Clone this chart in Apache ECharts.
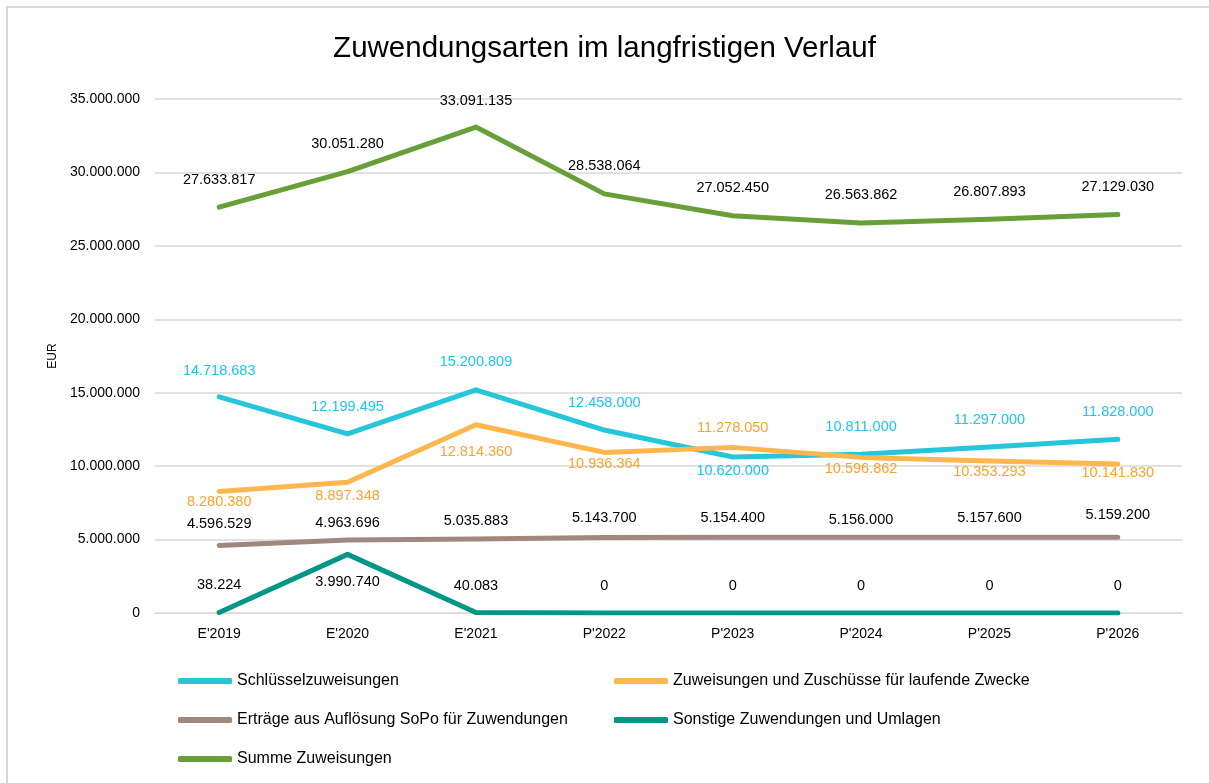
<!DOCTYPE html>
<html>
<head>
<meta charset="utf-8">
<script src="https://cdn.jsdelivr.net/npm/echarts@6/dist/echarts.min.js"></script>
<style>html,body{margin:0;padding:0;background:#fff}#c{width:1209px;height:783px}</style>
</head>
<body>
<div id="c"></div>
<script>
const categories = ["E'2019","E'2020","E'2021","P'2022","P'2023","P'2024","P'2025","P'2026"];
const schluessel = [14718683,12199495,15200809,12458000,10620000,10811000,11297000,11828000];
const zuweisungen = [8280380,8897348,12814360,10936364,11278050,10596862,10353293,10141830];
const ertraege = [4596529,4963696,5035883,5143700,5154400,5156000,5157600,5159200];
const sonstige = [38224,3990740,40083,0,0,0,0,0];
const summe = [27633817,30051280,33091135,28538064,27052450,26563862,26807893,27129030];
const yTicks = {min:0, max:35000000, interval:5000000};

const names = ['Schlüsselzuweisungen','Zuweisungen und Zuschüsse für laufende Zwecke','Erträge aus Auflösung SoPo für Zuwendungen','Sonstige Zuwendungen und Umlagen','Summe Zuweisungen'];
const lineColors = ['#26C6DA','#FFB74D','#A1887F','#009688','#689F38'];
const labelColors = ['#1FC3F3','#FFA22B','#000000','#000000','#000000'];
// label vertical offsets (styling)
const labelDy = [
  [-26,-27,-28,-27,14,-27,-27,-27],
  [11,14,27,12,-19,12,11,9],
  [-21,-17,-18,-19,-19,-17,-19,-22],
  [-27,28,-26,-27,-27,-27,-27,-27],
  [-27,-28,-26,-28,-28,-28,-27,-28]
];
const allData = [schluessel, zuweisungen, ertraege, sonstige, summe];

function fmt(v){ return String(Math.round(v)).replace(/\B(?=(\d{3})+(?!\d))/g,'.'); }

const FONT = 'Liberation Sans';
const series = allData.map((arr, si) => ({
  name: names[si],
  type: 'line',
  data: arr.map((v, i) => ({value: v, label: {offset: [0, labelDy[si][i]]}})),
  symbol: 'circle',
  symbolSize: 1,
  itemStyle: {color: lineColors[si]},
  lineStyle: {width: 5, color: lineColors[si], cap: 'round', join: 'round'},
  label: {show: true, position: 'inside', formatter: p => fmt(p.value), color: labelColors[si], fontFamily: FONT, fontSize: 14.5},
  emphasis: {disabled: true},
  animation: false,
  z: 2 + si
}));

const chart = echarts.init(document.getElementById('c'), null, {renderer: 'canvas'});
chart.setOption({
  backgroundColor: '#fff',
  animation: false,
  title: {text: 'Zuwendungsarten im langfristigen Verlauf', left: 'center', top: 29,
    textStyle: {fontFamily: FONT, fontSize: 29.5, fontWeight: 'normal', color: '#000'}},
  graphic: [{type: 'rect', shape: {x: 7, y: 7, width: 1230, height: 820}, style: {fill: 'none', stroke: '#D9D9D9', lineWidth: 2}, silent: true}],
  grid: {left: 155, right: 27, top: 99, bottom: 170, containLabel: false},
  legend: [
    {data: [names[0], names[2], names[4]], orient: 'vertical', left: 173, top: 666, itemWidth: 54, itemHeight: 6, itemGap: 19, icon: 'roundRect',
      textStyle: {fontFamily: FONT, fontSize: 16, color: '#000', lineHeight: 20}, selectedMode: false},
    {data: [names[1], names[3]], orient: 'vertical', left: 609, top: 666, itemWidth: 54, itemHeight: 6, itemGap: 19, icon: 'roundRect',
      textStyle: {fontFamily: FONT, fontSize: 16, color: '#000', lineHeight: 20}, selectedMode: false}
  ],
  xAxis: {type: 'category', data: categories, boundaryGap: true,
    axisLine: {show: true, lineStyle: {color: '#D9D9D9', width: 1}}, axisTick: {show: false},
    axisLabel: {fontFamily: FONT, fontSize: 14, color: '#000', margin: 14}},
  yAxis: {type: 'value', min: yTicks.min, max: yTicks.max, interval: yTicks.interval,
    name: 'EUR', nameLocation: 'middle', nameGap: 95, nameRotate: 90,
    nameTextStyle: {fontFamily: FONT, fontSize: 12, color: '#000'},
    axisLine: {show: false}, axisTick: {show: false},
    axisLabel: {fontFamily: FONT, fontSize: 14, color: '#000', margin: 15, formatter: v => fmt(v)},
    splitLine: {lineStyle: {color: '#D9D9D9', width: 1.5}}},
  series: series
});
</script>
</body>
</html>
